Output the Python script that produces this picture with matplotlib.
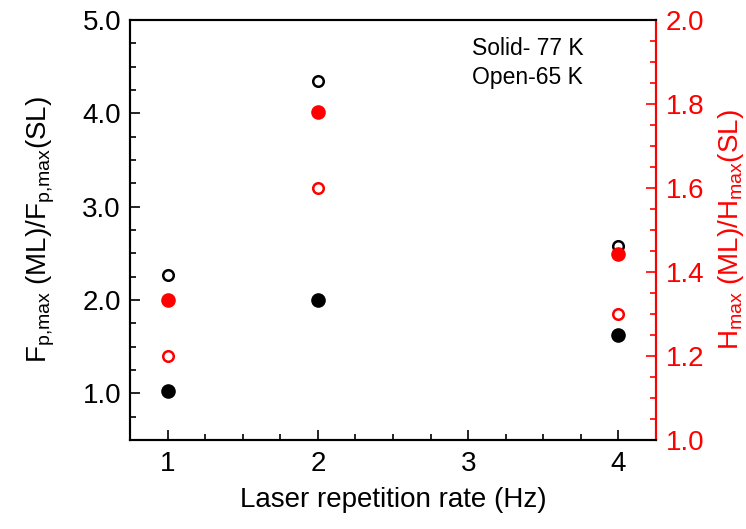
import matplotlib
matplotlib.use("Agg")
import matplotlib.pyplot as plt
from matplotlib.ticker import MultipleLocator, FormatStrFormatter

plt.rcParams['font.family'] = ['Liberation Sans', 'DejaVu Sans']
plt.rcParams['mathtext.default'] = 'regular'

# repetition rate (Hz)
rate = [1, 2, 4]
# Fp,max ratio (left axis, black)
fp_77K = [1.03, 2.0, 1.63]
fp_65K = [2.27, 4.35, 2.58]
# Hmax ratio (right axis, red)
h_77K = [1.333, 1.78, 1.444]
h_65K = [1.2, 1.6, 1.3]

fig = plt.figure(figsize=(7.46, 5.29), dpi=100)
ax = fig.add_axes([0.1743, 0.1682, 0.7051, 0.794])
ax2 = ax.twinx()

ms = 9.5
ax.plot(rate, fp_77K, 'o', color='black', ms=ms, ls='none')
ax.plot(rate, fp_65K, 'o', mfc='none', mec='black', mew=1.8, ms=7.6, ls='none')
ax2.plot(rate, h_77K, 'o', color='red', ms=ms, ls='none')
ax2.plot(rate, h_65K, 'o', mfc='none', mec='red', mew=1.8, ms=7.6, ls='none')

ax.set_xlim(0.75, 4.25)
ax.set_ylim(0.5, 5.0)
ax2.set_ylim(1.0, 2.0)

ax.xaxis.set_major_locator(MultipleLocator(1))
ax.xaxis.set_minor_locator(MultipleLocator(0.25))
ax.yaxis.set_major_locator(MultipleLocator(1))
ax.yaxis.set_minor_locator(MultipleLocator(0.25))
ax.yaxis.set_major_formatter(FormatStrFormatter('%.1f'))
ax2.yaxis.set_major_locator(MultipleLocator(0.2))
ax2.yaxis.set_minor_locator(MultipleLocator(0.05))
ax2.yaxis.set_major_formatter(FormatStrFormatter('%.1f'))

ax.tick_params(which='both', direction='in', top=False, labelsize=20, width=1.2)
ax.tick_params(which='major', length=7)
ax.tick_params(which='minor', length=4.5)
ax.tick_params(axis='x', pad=8)
ax.tick_params(axis='y', pad=6.5)
ax2.tick_params(which='both', direction='in', colors='red', labelsize=20, width=1.2)
ax2.tick_params(which='major', length=7, pad=7)
ax2.tick_params(which='minor', length=4.5)

for s in ax.spines.values():
    s.set_linewidth(1.5)
for s in ax2.spines.values():
    s.set_linewidth(1.5)
ax2.spines['right'].set_color('red')

ax.set_xlabel('Laser repetition rate (Hz)', fontsize=20)
ax.xaxis.set_label_coords(0.5, -0.112)
ax.set_ylabel(r'F$_{p{,}max}$ (ML)/F$_{p{,}max}$(SL)', fontsize=20)
ax.yaxis.set_label_coords(-0.139, 0.5)
ax2.set_ylabel(r'H$_{max}$ (ML)/H$_{max}$(SL)', fontsize=20, color='red',
               rotation=90)
ax2.yaxis.set_label_coords(1.114, 0.5)

ax.text(0.65, 0.932, 'Solid- 77 K', transform=ax.transAxes, fontsize=16.5, va='center')
ax.text(0.65, 0.862, 'Open-65 K', transform=ax.transAxes, fontsize=16.5, va='center')

fig.savefig('out.png', dpi=100)
